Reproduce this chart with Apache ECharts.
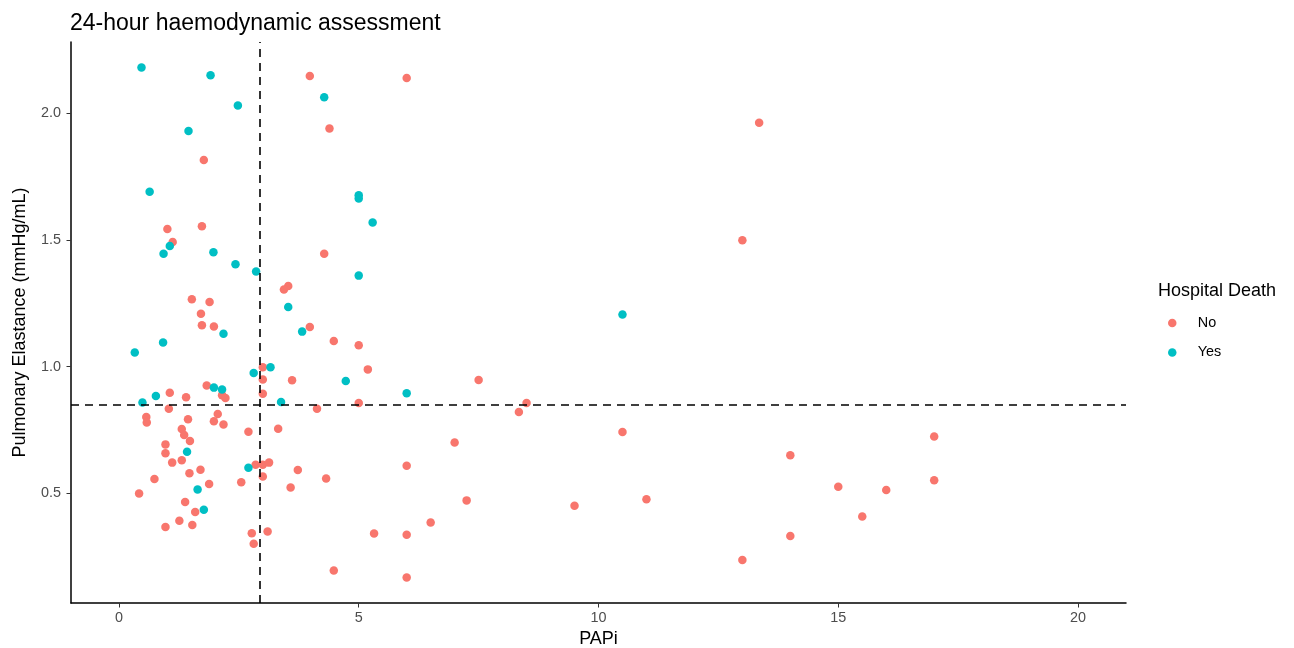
<!DOCTYPE html>
<html>
<head>
<meta charset="utf-8">
<script src="https://cdn.jsdelivr.net/npm/echarts@6/dist/echarts.min.js"></script>
<style>
  html, body { margin: 0; padding: 0; background: #fff; }
  #main { width: 1294px; height: 648px; }
</style>
</head>
<body>
<div id="main"></div>
<script>
// PAPi / pulmonary elastance, split by hospital death
var noPapi = [3.98, 4.39, 1.77, 1.01, 1.73, 6.0, 1.12, 4.28, 3.53, 3.44,
  1.52, 1.89, 1.71, 1.73, 1.98, 3.98, 4.48, 5.0, 3.0, 5.19,
  3.0, 3.61, 1.83, 2.15, 2.22, 3.0, 1.06, 1.40, 5.0, 1.04,
  4.13, 0.57, 0.58, 1.44, 2.06, 1.98, 2.18, 1.31, 1.36, 1.48,
  2.70, 3.32, 0.97, 0.97, 1.11, 1.31, 2.85, 3.0, 3.13, 3.73,
  1.70, 1.47, 3.0, 4.32, 0.74, 2.55, 1.88, 3.58, 0.42, 1.38,
  1.59, 1.26, 1.53, 0.97, 2.77, 3.10, 2.81, 4.48, 6.0, 6.5,
  5.32, 6.0, 6.0, 13.35, 13.0, 7.5, 8.5, 8.34, 7.0, 10.5,
  14.0, 15.0, 7.25, 9.5, 11.0, 14.0, 13.0, 17.0, 16.0, 17.0, 15.5];
var noPe = [2.147, 1.94, 1.815, 1.543, 1.554, 2.139, 1.492, 1.445, 1.318, 1.304,
  1.266, 1.255, 1.209, 1.163, 1.158, 1.156, 1.101, 1.084, 0.997, 0.989,
  0.949, 0.946, 0.925, 0.887, 0.876, 0.893, 0.897, 0.879, 0.856, 0.834,
  0.834, 0.801, 0.779, 0.792, 0.813, 0.784, 0.771, 0.754, 0.730, 0.706,
  0.743, 0.755, 0.693, 0.658, 0.621, 0.630, 0.613, 0.613, 0.621, 0.592,
  0.593, 0.579, 0.566, 0.558, 0.556, 0.544, 0.537, 0.523, 0.499, 0.466,
  0.426, 0.392, 0.375, 0.367, 0.342, 0.349, 0.301, 0.195, 0.609, 0.385,
  0.341, 0.336, 0.168, 1.962, 1.499, 0.947, 0.856, 0.821, 0.700, 0.742,
  0.650, 0.526, 0.472, 0.451, 0.476, 0.331, 0.237, 0.724, 0.513, 0.551, 0.408];

var yesPapi = [0.47, 1.91, 4.28, 2.48, 1.45, 0.64, 5.0, 5.0, 1.06, 0.93,
  1.97, 2.43, 2.86, 5.0, 3.53, 3.82, 2.18, 0.92, 0.33, 3.16,
  2.81, 4.73, 1.98, 2.15, 0.77, 0.49, 3.38, 1.42, 2.70, 1.64,
  1.77, 5.29, 6.0, 10.5];
var yesPe = [2.18, 2.15, 2.063, 2.03, 1.93, 1.69, 1.676, 1.663, 1.476, 1.445,
  1.451, 1.404, 1.375, 1.359, 1.235, 1.138, 1.130, 1.095, 1.056, 0.997,
  0.975, 0.943, 0.917, 0.910, 0.884, 0.858, 0.860, 0.664, 0.601, 0.515,
  0.435, 1.569, 0.895, 1.206];

var groups = ["No", "Yes"];
var groupColors = ["#F8766D", "#00BFC4"];
var xTicks = [0, 5, 10, 15, 20];
var yTicks = [0.5, 1.0, 1.5, 2.0];
var papiCut = 2.93;   // vertical reference
var peCut = 0.85;     // horizontal reference

function pairs(xs, ys) {
  return xs.map(function (x, i) { return [x, ys[i]]; });
}

var font = "'Liberation Sans', Arial, Helvetica, sans-serif";
var chart = echarts.init(document.getElementById("main"));

chart.setOption({
  animation: false,
  backgroundColor: "#fff",
  textStyle: { fontFamily: font },
  title: [
    {
      text: "24-hour haemodynamic assessment",
      left: 65, top: 7,
      textStyle: { fontFamily: font, fontSize: 23, fontWeight: "normal", color: "#000" }
    },
    {
      text: "Hospital Death",
      left: 1153, top: 277,
      textStyle: { fontFamily: font, fontSize: 18, fontWeight: "normal", color: "#000" }
    }
  ],
  legend: {
    data: groups,
    orient: "vertical",
    left: 1163, top: 310,
    icon: "circle",
    itemWidth: 41, itemHeight: 8.5,
    itemGap: 13.5,
    textStyle: { fontFamily: font, fontSize: 14.4, color: "#000", lineHeight: 16 }
  },
  grid: { left: 71, right: 168, top: 42, bottom: 45, outerBoundsMode: "none" },
  xAxis: {
    type: "value",
    min: -1, max: 21,
    name: "PAPi",
    nameLocation: "middle",
    nameGap: 19,
    nameTextStyle: { fontFamily: font, fontSize: 18, color: "#000" },
    splitLine: { show: false },
    axisLine: { onZero: false, lineStyle: { color: "#000", width: 1.5 } },
    axisTick: { length: 4.5, lineStyle: { color: "#333" }, customValues: xTicks },
    axisLabel: { margin: 8, fontSize: 14.4, color: "#4D4D4D", customValues: xTicks }
  },
  yAxis: {
    type: "value",
    min: 0.067, max: 2.281,
    name: "Pulmonary Elastance (mmHg/mL)",
    nameLocation: "middle",
    nameGap: 42,
    nameTextStyle: { fontFamily: font, fontSize: 18, color: "#000" },
    splitLine: { show: false },
    axisLine: { onZero: false, lineStyle: { color: "#000", width: 1.5 } },
    axisTick: { length: 4.5, lineStyle: { color: "#333" }, customValues: yTicks },
    axisLabel: {
      margin: 10, fontSize: 14.4, color: "#4D4D4D", customValues: yTicks,
      formatter: function (v) { return v.toFixed(1); }
    }
  },
  series: [
    {
      name: groups[0], type: "scatter", symbolSize: 8.5,
      itemStyle: { color: groupColors[0], opacity: 1 },
      data: pairs(noPapi, noPe)
    },
    {
      name: groups[1], type: "scatter", symbolSize: 8.5,
      itemStyle: { color: groupColors[1], opacity: 1 },
      data: pairs(yesPapi, yesPe)
    },
    {
      // reference lines only
      name: "cut", type: "line", data: [], z: 5, silent: true,
      markLine: {
        silent: true, symbol: "none", animation: false,
        label: { show: false },
        lineStyle: { color: "#000", width: 1.6, type: [8, 6] },
        data: [{ xAxis: papiCut }, { yAxis: peCut }]
      }
    }
  ]
});
</script>
</body>
</html>
